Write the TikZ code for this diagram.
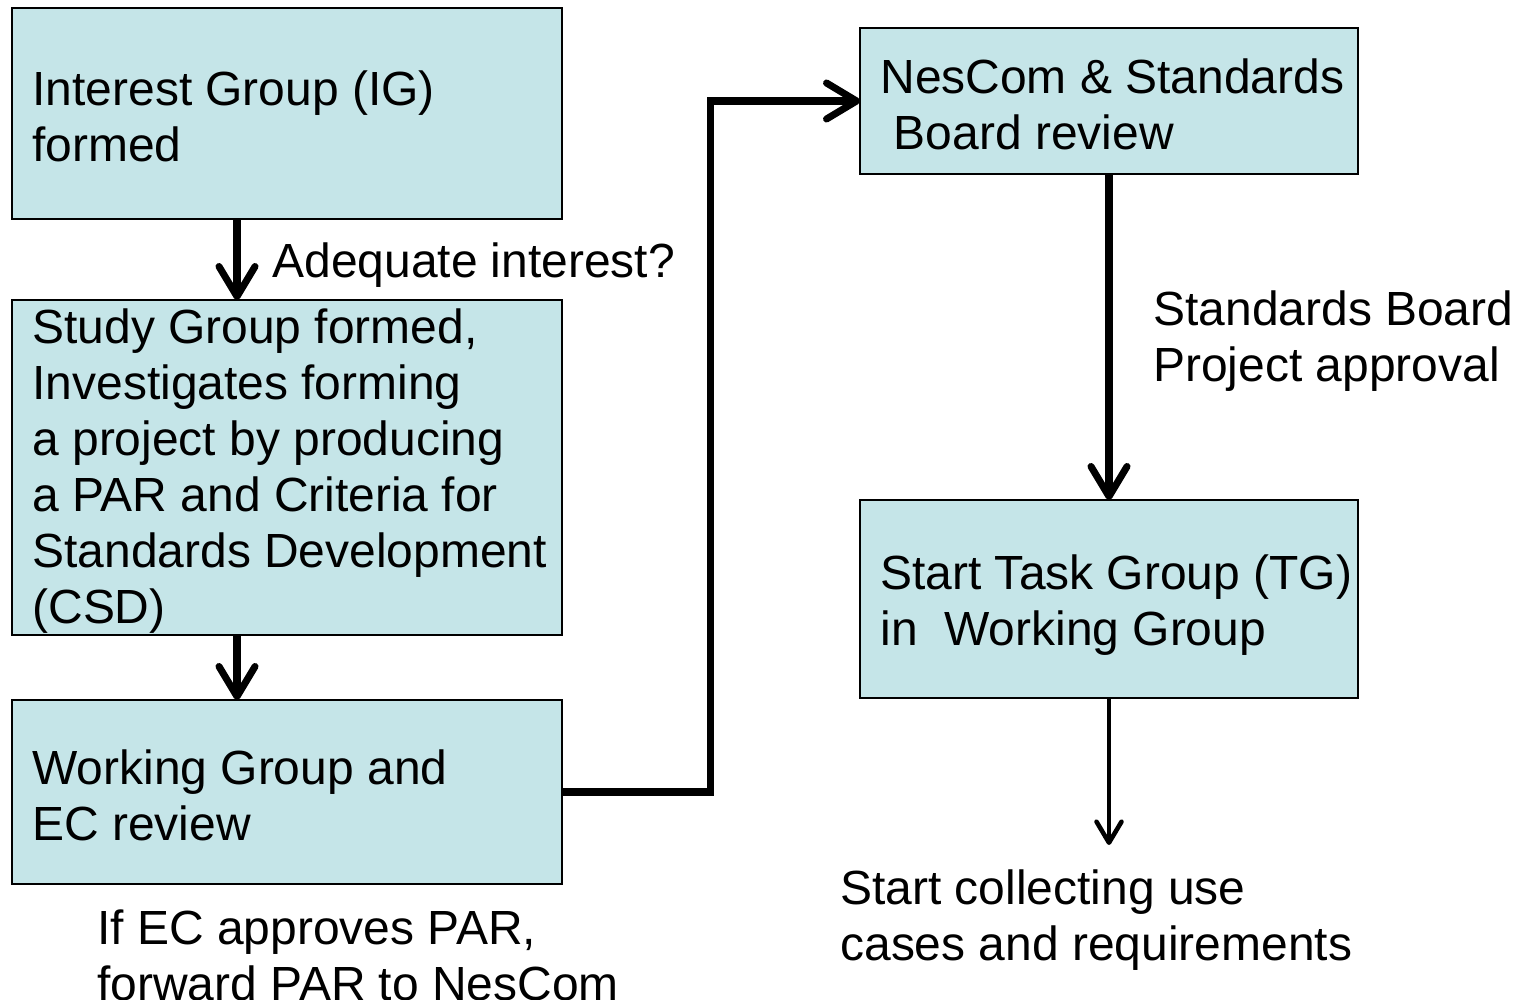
\documentclass[tikz,border=0pt]{standalone}
\usepackage{fontspec}
\setmainfont{Liberation Sans}
\usetikzlibrary{positioning,arrows.meta}
\definecolor{boxfill}{RGB}{197,229,232}

\begin{document}
\begin{tikzpicture}[
        x=0.02cm, y=-0.02cm,
        font=\fontsize{27.3}{31.9}\selectfont,
        stepbox/.style={draw=black, line width=1.1pt, fill=boxfill, inner sep=0pt, outer sep=0pt, minimum width=11cm},
        rightbox/.style={stepbox, minimum width=9.96cm},
        boxtext/.style={anchor=west, align=left, inner sep=0pt},
        note/.style={anchor=west, align=left, inner sep=0pt},
        flow/.style={-{Straight Barb[length=0.6cm, width=0.72cm, round]}, line width=4pt},
        thinflow/.style={-{Straight Barb[length=0.42cm, width=0.5cm, round]}, line width=2.6pt},
    ]
    \useasboundingbox (0,0) rectangle (1522,1000);

    % linke Spalte
    \node[stepbox, minimum height=4.22cm] (ig) at (287,113.5) {};
    \node[stepbox, minimum height=6.7cm] (sg) at (287,467.5) {};
    \node[stepbox, minimum height=3.68cm] (wg) at (287,792) {};

    % rechte Spalte
    \node[rightbox, minimum height=2.92cm] (nescom) at (1109,101) {};
    \node[rightbox, minimum height=3.96cm] (tg) at (1109,599) {};
    \coordinate (collect) at (1109,845);

    % Texte in den Kaesten
    \node[boxtext] (igtext) at ([xshift=0.4cm, yshift=-0.06cm]ig.west) {Interest Group (IG)\\formed};
    \node[boxtext] (sgtext) at ([xshift=0.4cm, yshift=-0.07cm]sg.west) {Study Group formed,\\Investigates forming\\a project by producing\\a PAR and Criteria for\\Standards Development\\(CSD)};
    \node[boxtext] (wgtext) at ([xshift=0.4cm, yshift=-0.06cm]wg.west) {Working Group and\\EC review};
    \node[boxtext] (nctext) at ([xshift=0.4cm, yshift=-0.06cm]nescom.west) {NesCom \& Standards\\\hspace*{0.28em}Board review};
    \node[boxtext] (tgtext) at ([xshift=0.4cm, yshift=-0.12cm]tg.west) {Start Task Group (TG)\\in\ \ Working Group};

    % Verbindungen
    \draw[flow] ([xshift=-1cm]ig.south) -- ([xshift=-1cm]sg.north);
    \draw[flow] ([xshift=-1cm]sg.south) -- ([xshift=-1cm]wg.north);
    \draw[flow, line join=miter] (wg.east) -- ++(2.98cm,0) |- (nescom.west);
    \draw[flow] (nescom) -- (tg);
    \draw[thinflow] (tg.south) -- (collect);

    % Beschriftungen
    \node[note] (adequate) at (272,265) {Adequate interest?};
    \node[note] (approval) at (1153,341) {Standards Board\\Project approval};
    \node[note] (forward) at (97,955) {If EC approves PAR,\\forward PAR to NesCom};
    \node[note] (usecases) at (840,920) {Start collecting use\\cases and requirements};

\end{tikzpicture}
\end{document}
